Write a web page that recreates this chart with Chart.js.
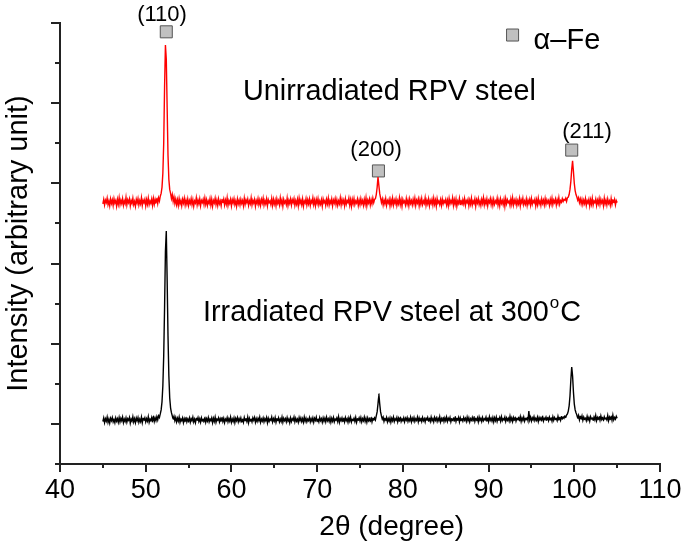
<!DOCTYPE html>
<html><head><meta charset="utf-8">
<script src="https://cdn.jsdelivr.net/npm/chart.js@4"></script>
<style>html,body{margin:0;padding:0;background:#fff;} #wrap{width:685px;height:547px;position:relative;}</style>
</head><body><div id="wrap"><canvas id="c"></canvas></div>
<script>
// sampling grid of the diffractograms: 45.0 .. 105.0 deg, step 0.1 deg
const angleStart = 45, angleStep = 0.1;

const unirradiated = [
6.49,6.60,6.46,6.58,6.52,6.63,6.47,6.56,6.44,6.61,6.50,6.59,6.45,6.62,6.51,6.57,6.43,6.60,6.48,6.64,
6.47,6.58,6.50,6.62,6.45,6.56,6.49,6.65,6.46,6.59,6.52,6.61,6.44,6.57,6.50,6.63,6.47,6.55,6.43,6.60,
6.51,6.62,6.46,6.57,6.49,6.64,6.45,6.58,6.52,6.60,6.44,6.59,6.48,6.63,6.47,6.56,6.50,6.61,6.45,6.62,
6.48,6.60,6.51,6.63,6.50,6.64,6.56,6.68,6.75,6.90,7.25,8.00,9.40,10.45,10.10,8.90,7.70,7.10,6.85,6.75,
6.62,6.72,6.55,6.66,6.50,6.61,6.47,6.59,6.45,6.62,6.49,6.57,6.44,6.60,6.51,6.63,6.46,6.58,6.48,6.61,
6.45,6.57,6.50,6.62,6.47,6.59,6.43,6.56,6.51,6.64,6.46,6.58,6.49,6.61,6.44,6.57,6.52,6.60,6.47,6.63,
6.48,6.59,6.45,6.56,6.50,6.62,6.46,6.60,6.43,6.57,6.51,6.63,6.47,6.58,6.45,6.61,6.49,6.56,6.44,6.60,
6.52,6.61,6.46,6.58,6.48,6.64,6.45,6.57,6.50,6.60,6.44,6.59,6.51,6.62,6.47,6.56,6.43,6.61,6.49,6.58,
6.46,6.60,6.50,6.57,6.44,6.63,6.48,6.59,6.52,6.61,6.45,6.56,6.49,6.64,6.46,6.58,6.51,6.60,6.43,6.57,
6.50,6.62,6.47,6.58,6.45,6.60,6.51,6.63,6.46,6.57,6.49,6.61,6.44,6.59,6.52,6.56,6.47,6.62,6.45,6.60,
6.48,6.58,6.44,6.61,6.50,6.57,6.46,6.64,6.49,6.59,6.43,6.60,6.51,6.56,6.47,6.63,6.45,6.58,6.50,6.61,
6.46,6.59,6.52,6.62,6.45,6.57,6.48,6.60,6.44,6.63,6.50,6.58,6.47,6.61,6.43,6.56,6.51,6.62,6.46,6.59,
6.49,6.61,6.45,6.57,6.51,6.64,6.47,6.58,6.44,6.60,6.50,6.62,6.46,6.56,6.48,6.59,6.43,6.61,6.52,6.57,
6.45,6.60,6.49,6.63,6.46,6.57,6.50,6.61,6.44,6.58,6.51,6.62,6.47,6.59,6.45,6.56,6.49,6.64,6.46,6.60,
6.50,6.58,6.44,6.61,6.48,6.57,6.52,6.63,6.46,6.59,6.43,6.60,6.49,6.62,6.47,6.56,6.51,6.61,6.45,6.58,
6.47,6.62,6.50,6.57,6.45,6.60,6.48,6.64,6.44,6.58,6.51,6.61,6.46,6.59,6.49,6.63,6.52,6.60,6.62,6.72,
6.90,7.16,6.95,6.75,6.64,6.52,6.61,6.46,6.58,6.49,6.62,6.45,6.57,6.51,6.60,6.44,6.59,6.48,6.63,6.46,
6.58,6.50,6.61,6.45,6.57,6.49,6.64,6.47,6.59,6.43,6.60,6.52,6.56,6.46,6.62,6.48,6.58,6.44,6.61,6.50,
6.57,6.46,6.60,6.49,6.63,6.45,6.58,6.51,6.61,6.44,6.59,6.48,6.62,6.47,6.56,6.50,6.64,6.45,6.58,6.49,
6.61,6.44,6.57,6.50,6.60,6.46,6.63,6.48,6.58,6.43,6.62,6.51,6.56,6.47,6.59,6.45,6.61,6.49,6.57,6.52,
6.60,6.46,6.58,6.44,6.62,6.49,6.57,6.51,6.64,6.45,6.59,6.48,6.61,6.43,6.56,6.50,6.63,6.47,6.58,6.46,
6.59,6.49,6.62,6.45,6.57,6.52,6.60,6.44,6.58,6.48,6.63,6.46,6.56,6.50,6.61,6.43,6.59,6.51,6.62,6.47,
6.56,6.45,6.60,6.50,6.64,6.46,6.58,6.49,6.61,6.44,6.57,6.52,6.62,6.47,6.59,6.45,6.60,6.48,6.56,6.51,
6.63,6.46,6.58,6.44,6.61,6.50,6.57,6.47,6.60,6.43,6.62,6.49,6.59,6.52,6.56,6.45,6.61,6.48,6.64,6.46,
6.58,6.50,6.60,6.45,6.57,6.49,6.62,6.44,6.59,6.51,6.63,6.47,6.56,6.48,6.61,6.45,6.58,6.50,6.60,6.46,
6.62,6.48,6.57,6.52,6.60,6.44,6.59,6.47,6.63,6.49,6.56,6.45,6.61,6.50,6.58,6.46,6.62,6.48,6.59,6.51,
6.57,6.45,6.60,6.49,6.63,6.47,6.58,6.52,6.61,6.46,6.59,6.50,6.64,6.48,6.57,6.53,6.62,6.55,6.60,6.58,
6.63,6.55,6.64,6.66,6.72,6.85,7.05,7.35,7.56,7.30,7.00,6.82,6.72,6.66,6.58,6.64,6.52,6.61,6.49,6.60,
6.47,6.58,6.50,6.62,6.45,6.57,6.51,6.60,6.44,6.59,6.48,6.63,6.46,6.56,6.52,6.61,6.45,6.58,6.49,6.62,
6.47,6.60,6.51,6.57,6.44,6.63,6.49,6.58,6.46,6.61,6.50,6.56,6.45,6.62,6.48,6.59,6.52,6.60,6.46,6.57,
6.52];

const irradiated = [
1.06,1.15,1.03,1.13,1.07,1.17,1.04,1.12,1.02,1.14,1.08,1.16,1.05,1.11,1.03,1.15,1.07,1.13,1.04,1.16,
1.05,1.14,1.08,1.17,1.03,1.12,1.06,1.15,1.04,1.13,1.09,1.16,1.02,1.12,1.07,1.18,1.05,1.13,1.03,1.15,
1.08,1.16,1.04,1.12,1.06,1.17,1.03,1.14,1.09,1.15,1.05,1.13,1.07,1.18,1.04,1.12,1.08,1.16,1.06,1.19,
1.06,1.15,1.08,1.18,1.10,1.20,1.16,1.25,1.35,1.55,1.95,2.70,3.90,5.30,5.81,4.60,3.20,2.20,1.65,1.40,
1.28,1.20,1.12,1.19,1.08,1.16,1.05,1.14,1.07,1.17,1.04,1.12,1.08,1.15,1.03,1.13,1.06,1.16,1.05,1.12,
1.07,1.15,1.04,1.13,1.08,1.17,1.05,1.12,1.03,1.14,1.09,1.16,1.06,1.13,1.04,1.15,1.07,1.12,1.05,1.17,
1.04,1.13,1.07,1.16,1.05,1.12,1.08,1.15,1.03,1.14,1.06,1.17,1.04,1.12,1.09,1.15,1.05,1.13,1.07,1.16,
1.06,1.14,1.03,1.12,1.08,1.16,1.05,1.13,1.07,1.17,1.04,1.12,1.06,1.15,1.03,1.14,1.08,1.16,1.05,1.13,
1.07,1.15,1.05,1.12,1.04,1.16,1.08,1.13,1.06,1.17,1.03,1.14,1.07,1.12,1.05,1.15,1.09,1.16,1.04,1.13,
1.06,1.14,1.08,1.17,1.04,1.12,1.07,1.15,1.05,1.13,1.08,1.16,1.03,1.14,1.06,1.12,1.09,1.17,1.05,1.13,
1.07,1.16,1.04,1.13,1.08,1.15,1.05,1.12,1.06,1.17,1.04,1.14,1.08,1.13,1.05,1.16,1.07,1.12,1.03,1.15,
1.06,1.13,1.09,1.17,1.05,1.14,1.07,1.12,1.04,1.16,1.08,1.15,1.06,1.13,1.04,1.17,1.07,1.14,1.05,1.12,
1.08,1.16,1.05,1.13,1.07,1.15,1.04,1.14,1.09,1.17,1.06,1.12,1.05,1.16,1.08,1.13,1.04,1.15,1.07,1.14,
1.05,1.17,1.08,1.13,1.06,1.15,1.04,1.14,1.07,1.16,1.05,1.12,1.09,1.15,1.06,1.18,1.04,1.13,1.08,1.15,
1.06,1.14,1.05,1.16,1.08,1.13,1.04,1.15,1.07,1.17,1.05,1.12,1.08,1.14,1.06,1.16,1.04,1.13,1.09,1.15,
1.07,1.16,1.05,1.13,1.08,1.17,1.06,1.14,1.04,1.15,1.08,1.13,1.06,1.16,1.05,1.14,1.09,1.15,1.10,1.20,
1.30,1.50,1.75,1.50,1.30,1.20,1.12,1.17,1.06,1.14,1.08,1.16,1.05,1.13,1.07,1.15,1.04,1.14,1.08,1.17,
1.06,1.13,1.09,1.16,1.05,1.14,1.07,1.17,1.06,1.12,1.08,1.15,1.05,1.14,1.09,1.16,1.06,1.13,1.08,1.17,
1.05,1.14,1.08,1.16,1.06,1.13,1.09,1.17,1.05,1.15,1.07,1.14,1.06,1.16,1.08,1.13,1.05,1.15,1.09,1.16,
1.07,1.14,1.06,1.17,1.08,1.13,1.05,1.16,1.09,1.15,1.06,1.14,1.08,1.18,1.05,1.13,1.07,1.16,1.06,1.15,
1.08,1.17,1.06,1.14,1.09,1.16,1.05,1.13,1.08,1.15,1.07,1.18,1.06,1.14,1.09,1.16,1.05,1.15,1.08,1.13,
1.07,1.16,1.09,1.14,1.06,1.17,1.08,1.15,1.05,1.13,1.09,1.16,1.07,1.18,1.06,1.14,1.08,1.15,1.05,1.17,
1.09,1.14,1.06,1.16,1.08,1.13,1.10,1.17,1.07,1.15,1.06,1.18,1.09,1.14,1.07,1.16,1.05,1.15,1.08,1.17,
1.06,1.14,1.09,1.16,1.07,1.18,1.08,1.13,1.10,1.17,1.06,1.15,1.09,1.14,1.07,1.19,1.08,1.15,1.06,1.16,
1.09,1.17,1.07,1.14,1.10,1.16,1.08,1.18,1.06,1.15,1.09,1.17,1.07,1.14,1.10,1.16,1.08,1.32,1.10,1.17,
1.07,1.15,1.10,1.18,1.08,1.14,1.09,1.17,1.06,1.16,1.10,1.15,1.08,1.19,1.07,1.14,1.11,1.17,1.09,1.16,
1.08,1.17,1.10,1.15,1.07,1.18,1.09,1.16,1.11,1.14,1.08,1.19,1.10,1.16,1.09,1.18,1.12,1.17,1.14,1.20,
1.16,1.22,1.25,1.32,1.45,1.70,2.10,2.42,2.20,1.80,1.50,1.35,1.28,1.22,1.14,1.21,1.10,1.19,1.12,1.20,
1.09,1.17,1.11,1.15,1.08,1.19,1.10,1.16,1.07,1.18,1.12,1.15,1.09,1.17,1.10,1.21,1.08,1.16,1.11,1.18,
1.09,1.20,1.11,1.16,1.08,1.18,1.12,1.15,1.10,1.21,1.08,1.17,1.11,1.19,1.09,1.22,1.10,1.16,1.12,1.19,
1.14];

const xTickValues = [40, 50, 60, 70, 80, 90, 100, 110];
const peakLabels = ['(110)', '(200)', '(211)'];
const peakLabelAngles = [51.9, 76.87, 101.49];
const peakLabelHeights = [11.2, 7.83, 8.28];
const markerAngles = [52.4, 77.15, 99.7];
const markerHeights = [10.78, 7.31, 7.83];
const legendMarkerAngle = 92.8, legendMarkerHeight = 10.70;
const legendText = 'α–Fe';
const curveLabels = ['Unirradiated RPV steel', 'Irradiated RPV steel at 300'];
const curveLabelAngles = [61.35, 56.68];
const curveLabelHeights = [9.08, 3.57];

const twoTheta = unirradiated.map((_, i) => +(angleStart + i * angleStep).toFixed(1));
const FONT = "'Liberation Sans', Arial, Helvetica, sans-serif";

const decor = {
  id: 'decor',
  afterDraw(chart) {
    const {ctx, chartArea, scales: {x, y}} = chart;
    ctx.save();
    ctx.strokeStyle = '#222';
    ctx.lineWidth = 2;
    ctx.beginPath();
    for (let v = 40; v <= 110; v += 5) {
      const px = Math.round(x.getPixelForValue(v));
      const len = (v % 10 === 0) ? 8 : 4;
      ctx.moveTo(px, chartArea.bottom);
      ctx.lineTo(px, chartArea.bottom + len);
    }
    for (let v = 0; v <= 11; v++) {
      const py = Math.round(y.getPixelForValue(v));
      const len = (v % 2 === 1) ? 9 : 5;
      ctx.moveTo(chartArea.left, py);
      ctx.lineTo(chartArea.left - len, py);
    }
    ctx.stroke();

    ctx.fillStyle = '#000';
    ctx.textBaseline = 'middle';
    ctx.textAlign = 'center';
    ctx.font = '22px ' + FONT;
    peakLabels.forEach((t, i) => {
      ctx.fillText(t, x.getPixelForValue(peakLabelAngles[i]), y.getPixelForValue(peakLabelHeights[i]));
    });

    ctx.textAlign = 'left';
    ctx.textBaseline = 'alphabetic';
    ctx.font = '29px ' + FONT;
    ctx.fillText(legendText, x.getPixelForValue(legendMarkerAngle) + 21, y.getPixelForValue(legendMarkerHeight) + 14);

    ctx.font = '28.8px ' + FONT;
    ctx.fillText(curveLabels[0], x.getPixelForValue(curveLabelAngles[0]), y.getPixelForValue(curveLabelHeights[0]));
    const bx = x.getPixelForValue(curveLabelAngles[1]);
    const by = y.getPixelForValue(curveLabelHeights[1]);
    ctx.fillText(curveLabels[1], bx, by);
    let w = ctx.measureText(curveLabels[1]).width;
    ctx.font = '17px ' + FONT;
    ctx.fillText('o', bx + w + 1, by - 13);
    w += ctx.measureText('o').width + 2;
    ctx.font = '28.8px ' + FONT;
    ctx.fillText('C', bx + w, by);

    ctx.font = '28px ' + FONT;
    ctx.textAlign = 'center';
    ctx.textBaseline = 'middle';
    ctx.fillText('2θ (degree)', x.getPixelForValue(78.7), chartArea.bottom + 63);
    ctx.restore();
  }
};

new Chart(document.getElementById('c'), {
  type: 'line',
  data: {
    datasets: [
      {
        label: 'Unirradiated RPV steel',
        data: twoTheta.map((a, i) => ({x: a, y: unirradiated[i]})),
        borderColor: '#ff0000', borderWidth: 1.4, pointRadius: 0, tension: 0.0001, fill: false
      },
      {
        label: 'Irradiated RPV steel at 300°C',
        data: twoTheta.map((a, i) => ({x: a, y: irradiated[i]})),
        borderColor: '#000000', borderWidth: 1.4, pointRadius: 0, tension: 0.0001, fill: false
      },
      {
        type: 'scatter',
        label: 'α–Fe',
        data: markerAngles.map((a, i) => ({x: a, y: markerHeights[i]})).concat([{x: legendMarkerAngle, y: legendMarkerHeight}]),
        showLine: false, pointStyle: 'rect', pointRadius: 8.5,
        backgroundColor: '#c0c0c0', borderColor: '#555', borderWidth: 1, clip: false
      }
    ]
  },
  options: {
    responsive: true, maintainAspectRatio: false, animation: false,
    layout: {padding: {top: 23, right: 25, left: 0, bottom: 0}},
    plugins: {legend: {display: false}, tooltip: {enabled: false}},
    scales: {
      x: {
        type: 'linear', min: 40, max: 110,
        afterFit(s) { s.height = 83; s.paddingRight = 0; s.paddingLeft = 0; },
        afterBuildTicks(s) { s.ticks = xTickValues.map(v => ({value: v})); },
        grid: {display: false, drawTicks: false},
        border: {display: true, color: '#222', width: 2},
        ticks: {color: '#000', padding: 10, maxRotation: 0, autoSkip: false, font: {size: 27, family: FONT}}
      },
      y: {
        type: 'linear', min: 0, max: 11,
        afterFit(s) { s.width = 60; },
        grid: {display: false, drawTicks: false},
        border: {display: true, color: '#222', width: 2},
        ticks: {display: false},
        title: {display: true, text: 'Intensity (arbitrary unit)', color: '#000', padding: {top: 2, bottom: 0}, font: {size: 29, family: FONT}}
      }
    }
  },
  plugins: [decor]
});
</script>
</body></html>
